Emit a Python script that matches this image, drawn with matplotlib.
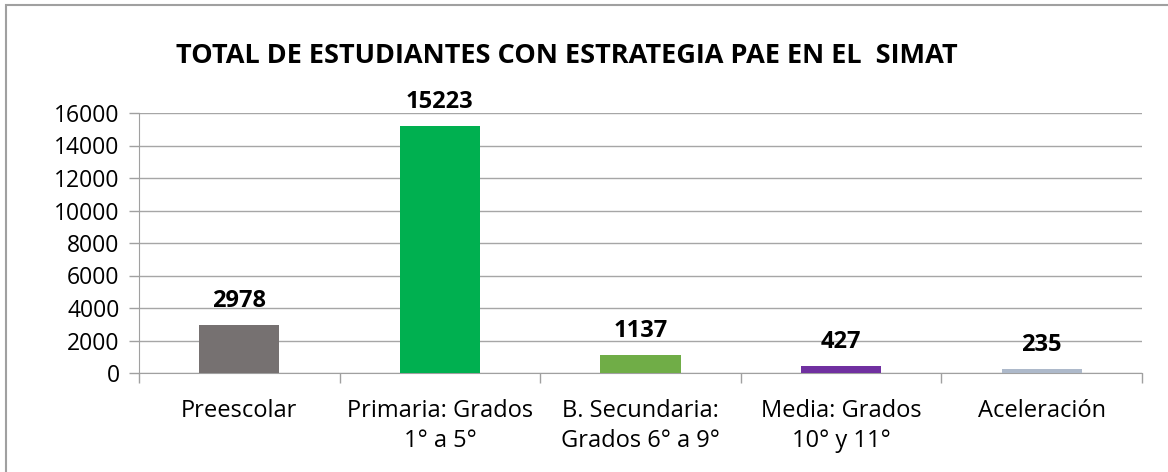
import numpy as np
import matplotlib.pyplot as plt
from matplotlib.patches import Rectangle

categories = ['Preescolar', 'Primaria: Grados\n1° a 5°', 'B. Secundaria:\nGrados 6° a 9°',
              'Media: Grados\n10° y 11°', 'Aceleración']
values = [2978, 15223, 1137, 427, 235]
colors = ['#767171', '#00B050', '#70AD47', '#7030A0', '#ADB9CA']
title = 'TOTAL DE ESTUDIANTES CON ESTRATEGIA PAE EN EL  SIMAT'

plt.rcParams['font.family'] = ['Open Sans', 'DejaVu Sans']

fig = plt.figure(figsize=(11.68, 4.72), dpi=100)
ax = fig.add_axes([139 / 1168, 1 - 373 / 472, (1142 - 139) / 1168, (373 - 113) / 472])

x = np.arange(len(categories))
bars = ax.bar(x, values, width=0.4, color=colors, zorder=3)
ax.bar_label(bars, labels=[str(v) for v in values], padding=8.5,
             fontsize=17, fontweight='bold')

ax.set_xlim(-0.5, len(categories) - 0.5)
ax.set_ylim(0, 16000)
ax.set_yticks(np.arange(0, 16001, 2000))
ax.yaxis.grid(True, color='#A6A6A6', lw=1, zorder=0)

# category boundaries get the tick marks, centres get the labels
ax.set_xticks(np.arange(-0.5, len(categories), 1.0))
ax.set_xticklabels([])
ax.set_xticks(x, categories, minor=True)
ax.tick_params(axis='x', which='major', length=7, color='#A0A0A0', width=1)
ax.tick_params(axis='x', which='minor', length=0, pad=19, labelsize=17)
for lab in ax.get_xticklabels(minor=True):
    lab.set_linespacing(1.33)
ax.tick_params(axis='y', length=7, color='#A0A0A0', width=1, labelsize=16.5, pad=7)

for s in ['top', 'right']:
    ax.spines[s].set_visible(False)
for s in ['left', 'bottom']:
    ax.spines[s].set_color('#A0A0A0')

fig.text(567 / 1168, 1 - 56 / 472, title, ha='center', va='center',
         fontsize=19.5, fontweight='bold')

fig.patches.append(Rectangle((6 / 1168, -0.1), 1.2, 1 - 5 / 472 + 0.1,
                             transform=fig.transFigure, fill=False,
                             edgecolor='#A0A0A0', lw=1.5))

fig.savefig('out.png', dpi=100)
